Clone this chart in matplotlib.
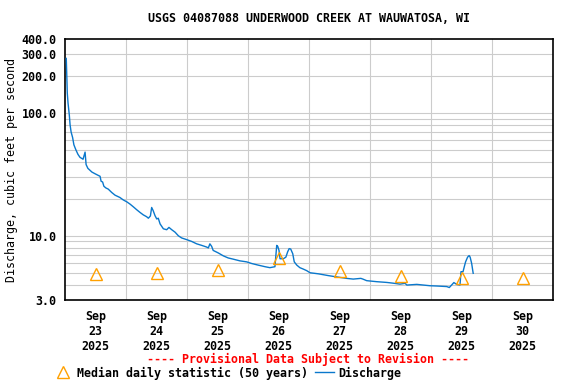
import pandas as pd
import matplotlib
matplotlib.use("Agg")
import matplotlib.pyplot as plt
from matplotlib.lines import Line2D

# Discharge readings, hours after 2025-09-23 00:00 and cubic feet per second
hours = [0.5, 0.75, 0.9, 1.2, 1.7, 2.0, 2.4, 3.0, 3.5, 4.3, 5.1, 5.9, 7.1, 7.9, 8.3,
         9.0, 10.6, 11.8, 13.1, 13.8, 14.2, 14.8, 15.3, 16.1, 17.0, 18.4, 19.7, 21.6,
         22.9, 24.3, 25.6, 26.9, 28.2, 29.5, 30.8, 32.1, 32.8, 33.6, 34.1, 34.7, 35.4,
         36.1, 36.7, 37.4, 38.7, 40.0, 40.9, 42.0, 43.3, 44.6, 45.9, 47.9, 49.8, 51.8,
         53.8, 55.7, 56.4, 57.0, 57.7, 58.3, 60.3, 62.3, 64.2, 66.2, 68.8, 71.5, 73.4,
         76.0, 78.7, 80.6, 82.6, 83.3, 83.7, 84.2, 84.6, 85.9, 86.9, 87.6, 88.2, 88.8,
         89.6, 90.2, 91.2, 92.4, 93.8, 95.1, 96.4, 99.7, 103.6, 108.2, 110.8, 113.4,
         116.4, 117.2, 118.7, 122.6, 126.6, 129.2, 131.8, 133.8, 134.5, 138.4, 141.0,
         143.6, 146.2, 150.2, 151.2, 152.1, 153.0, 154.1, 155.4, 155.8, 156.6, 157.1,
         157.6, 158.4, 159.0, 159.4, 160.0, 160.4, 160.6]
discharge = [278, 187, 145, 120, 96, 80, 70, 63, 55, 50, 46, 43.5, 42, 48, 38,
             35.4, 33, 32, 31, 30.5, 27.8, 27.4, 25.3, 24.5, 24.0, 22.5, 21.4, 20.5,
             19.6, 18.9, 18.1, 17.2, 16.3, 15.5, 14.8, 14.3, 13.9, 14.5, 17.0, 16.0, 14.6,
             13.7, 13.9, 12.5, 11.4, 11.2, 11.7, 11.2, 10.7, 10.0, 9.6, 9.3, 9.0, 8.6,
             8.35, 8.1, 7.96, 8.6, 8.2, 7.6, 7.25, 6.86, 6.6, 6.45, 6.25, 6.13, 5.95,
             5.77, 5.6, 5.5, 5.6, 8.35, 8.2, 7.6, 6.5, 6.5, 6.7, 7.4, 7.86, 7.8,
             7.15, 6.13, 5.77, 5.5, 5.35, 5.2, 5.0, 4.9, 4.74, 4.58, 4.5, 4.44,
             4.5, 4.44, 4.31, 4.23, 4.17, 4.11, 4.04, 4.1, 3.97, 4.02, 3.97,
             3.92, 3.90, 3.86, 3.79, 3.97, 4.16, 4.02, 3.97, 5.1, 5.1, 5.6,
             6.13, 6.7, 6.9, 6.7, 5.95, 5.25, 4.95]

# Median daily statistic (50 years), one per day at noon
median_days = ["2025-09-23", "2025-09-24", "2025-09-25", "2025-09-26",
               "2025-09-27", "2025-09-28", "2025-09-29", "2025-09-30"]
median_cfs = [4.85, 5.0, 5.27, 6.58, 5.17, 4.71, 4.5, 4.57]

y_grid = [4, 5, 6, 7, 8, 9, 10, 20, 30, 40, 50, 60, 70, 80, 90, 100, 200, 300]
y_labels = [3, 10, 100, 200, 300, 400]

start = pd.Timestamp("2025-09-23 00:00")
times = [start + pd.Timedelta(hours=h) for h in hours]
median_times = [pd.Timestamp(d) + pd.Timedelta(hours=12) for d in median_days]

plt.rcParams["font.family"] = "DejaVu Sans Mono"
plt.rcParams["font.weight"] = "bold"
plt.rcParams["font.size"] = 8.4

fig = plt.figure(figsize=(5.76, 3.84), dpi=100)
ax = fig.add_axes([65 / 576, 1 - 300 / 384, 488 / 576, 261 / 384])

ax.set_yscale("log")
ax.set_ylim(3, 400)
ax.set_xlim(start, start + pd.Timedelta(days=8))

# grid lines
for v in y_grid:
    ax.axhline(v, color="#cccccc", lw=0.8, zorder=0)
for d in range(1, 8):
    ax.axvline(start + pd.Timedelta(days=d), color="#cccccc", lw=0.8, zorder=0)

ax.plot(times, discharge, color="#0a78cc", lw=1.0, zorder=3)
ax.plot(median_times, median_cfs, linestyle="none", marker="^", markersize=8,
        markerfacecolor="none", markeredgecolor="#ffa000", markeredgewidth=1.0, zorder=4)

ax.yaxis.set_major_locator(matplotlib.ticker.FixedLocator(y_labels))
ax.yaxis.set_minor_locator(matplotlib.ticker.NullLocator())
ax.set_yticklabels([f"{v:.1f}" for v in y_labels])
ax.set_xticks(median_times)
ax.set_xticklabels([t.strftime("%b\n%d\n%Y") for t in median_times])
ax.tick_params(length=0, pad=6)
ax.tick_params(axis="x", pad=7)

for s in ax.spines.values():
    s.set_color("black")
    s.set_linewidth(1.2)

ax.set_ylabel("Discharge, cubic feet per second")
ax.yaxis.set_label_coords(-0.096, 0.5)
ax.set_title("USGS 04087088 UNDERWOOD CREEK AT WAUWATOSA, WI", pad=12,
             fontsize=8.4, fontweight="bold")

fig.text(0.535, 1 - 359 / 384, "---- Provisional Data Subject to Revision ----",
         color="red", ha="center", va="center")

handles = [Line2D([], [], linestyle="none", marker="^", markersize=8,
                  markerfacecolor="none", markeredgecolor="#ffa000"),
           Line2D([], [], color="#0a78cc", lw=1.0)]
fig.legend(handles, ["Median daily statistic (50 years)", "Discharge"],
           loc="center left", bbox_to_anchor=(54 / 576, 1 - 373 / 384), ncol=2,
           frameon=False, handlelength=1.6, handletextpad=0.4, columnspacing=0.6,
           borderaxespad=0, borderpad=0)

fig.savefig("out.png", dpi=100)
